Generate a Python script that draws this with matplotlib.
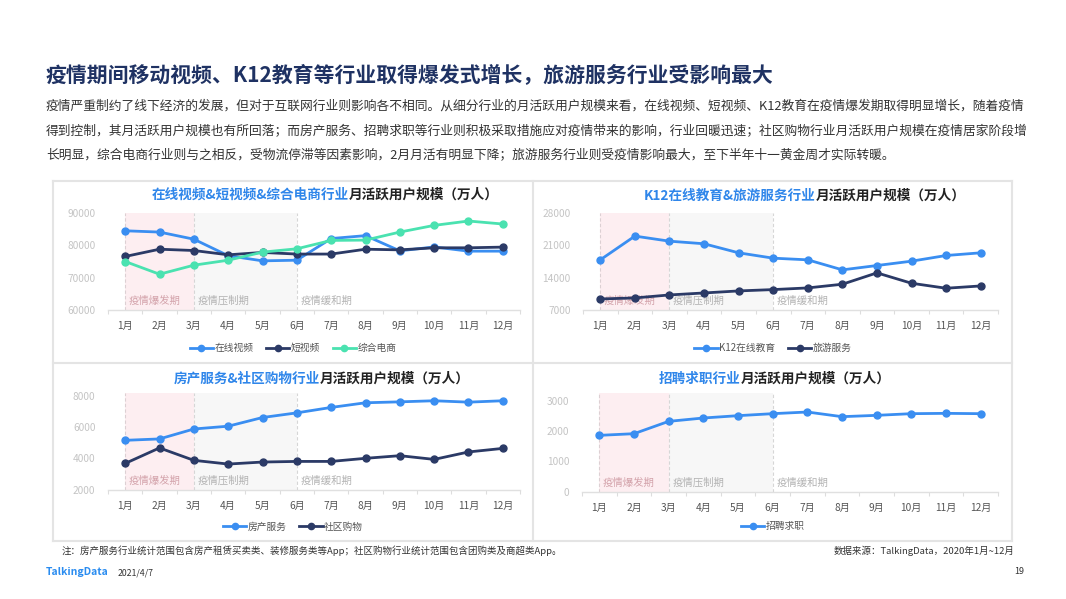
import matplotlib
matplotlib.use("Agg")
import matplotlib.pyplot as plt
from matplotlib.lines import Line2D

plt.rcParams['font.family'] = ['Noto Sans CJK SC', 'DejaVu Sans']

# ---- data ----
months = ["1月", "2月", "3月", "4月", "5月", "6月", "7月", "8月", "9月", "10月", "11月", "12月"]

online_video = [84500, 84100, 81900, 76800, 75200, 75400, 82100, 83000, 78300, 79500, 78200, 78200]
short_video = [76550, 78800, 78400, 77070, 77800, 77300, 77300, 78800, 78600, 79240, 79240, 79450]
ecommerce = [75000, 71070, 73860, 75400, 77900, 78930, 81520, 81620, 84100, 86170, 87520, 86590]

k12 = [17860, 23000, 21900, 21340, 19380, 18220, 17860, 15690, 16630, 17570, 18800, 19380]
travel = [9390, 9610, 10260, 10690, 11130, 11420, 11780, 12580, 15040, 12790, 11710, 12210]

real_estate = [5170, 5260, 5900, 6080, 6640, 6940, 7290, 7590, 7650, 7720, 7630, 7720]
community = [3680, 4680, 3880, 3640, 3770, 3810, 3810, 4010, 4180, 3940, 4420, 4650]

recruit = [1864, 1919, 2327, 2438, 2515, 2581, 2636, 2482, 2526, 2581, 2592, 2581]

phase_names = ["疫情爆发期", "疫情压制期", "疫情缓和期"]
phase_starts = [0, 2, 5]

BLUE = "#3a8ef1"
NAVY = "#2b3a66"
GREEN = "#4ae2b0"
TITLE_BLUE = "#2f86ea"

W, H = 1066, 599
fig = plt.figure(figsize=(W / 100, H / 100), dpi=100)
fig.patch.set_facecolor("white")


def fx(x):
    return x / W


def fy(y):
    return 1 - y / H


def make_axes(left, right, top, bottom):
    return fig.add_axes([fx(left), fy(bottom), (right - left) / W, (bottom - top) / H])


def draw_panel(ax, series, ylim, yticks):
    ax.set_xlim(-0.5, 11.5)
    ax.set_ylim(*ylim)
    # phase shading
    ax.axvspan(0, 2, color="#fdeef1", lw=0, zorder=0)
    ax.axvspan(2, 5, color="#f7f7f7", lw=0, zorder=0)
    for i, (name, start) in enumerate(zip(phase_names, phase_starts)):
        ax.axvline(start, color="#dcd0d3" if i == 0 else "#d6d6d6", lw=0.8,
                   ls=(0, (3, 2)), zorder=1)
        ax.annotate(name, xy=(start, 0), xycoords=("data", "axes fraction"),
                    xytext=(2.5, 6.5), textcoords="offset points", va="center",
                    ha="left", fontsize=7.5,
                    color="#d3a2aa" if i == 0 else "#b3b3b3", zorder=2)
    x = list(range(len(months)))
    handles = []
    for name, vals, color in series:
        ln, = ax.plot(x, vals, color=color, lw=2.0, marker="o", ms=5,
                      solid_capstyle="round", zorder=3, label=name)
        handles.append(ln)
    ax.set_yticks(yticks)
    ax.set_yticklabels([str(v) for v in yticks])
    ax.set_xticks(x)
    ax.set_xticklabels(months)
    ax.set_xticks([i - 0.5 for i in range(13)], minor=True)
    ax.tick_params(axis="y", length=0, pad=9, labelsize=7.3, labelcolor="#c4c4c4")
    ax.tick_params(axis="x", which="major", length=0, pad=8, labelsize=7.3,
                   labelcolor="#555555")
    ax.tick_params(axis="x", which="minor", length=3, width=0.8, color="#dddddd")
    for s in ["top", "right", "left"]:
        ax.spines[s].set_visible(False)
    ax.spines["bottom"].set_color("#e0e0e0")
    ax.spines["bottom"].set_linewidth(1.0)
    ax.set_facecolor("none")
    return handles


def add_legend(handles, cx, cy):
    hs = [Line2D([0], [0], color=h.get_color(), lw=2.0, marker="o", ms=4.5) for h in handles]
    fig.legend(hs, [h.get_label() for h in handles], loc="center",
               bbox_to_anchor=(fx(cx), fy(cy)), ncol=len(hs), frameon=False,
               fontsize=7, handlelength=2.4, handletextpad=0.15,
               columnspacing=1.3, labelcolor="#555555")


renderer = fig.canvas.get_renderer()


def two_color_title(blue_part, black_part, cx, cy, size=9.8):
    t1 = fig.text(0, fy(cy), blue_part, color=TITLE_BLUE, fontsize=size,
                  fontweight="bold", va="center", ha="left")
    t2 = fig.text(0, fy(cy), black_part, color="#222222", fontsize=size,
                  fontweight="bold", va="center", ha="left")
    w1 = t1.get_window_extent(renderer).width
    w2 = t2.get_window_extent(renderer).width
    left = cx - (w1 + w2) / 2
    t1.set_x(fx(left))
    t2.set_x(fx(left + w1))


# ---- page heading ----
fig.text(fx(46), fy(75), "疫情期间移动视频、K12教育等行业取得爆发式增长，旅游服务行业受影响最大",
         fontsize=15, fontweight="bold", color="#1f3263", va="center", ha="left")
body = [
    "疫情严重制约了线下经济的发展，但对于互联网行业则影响各不相同。从细分行业的月活跃用户规模来看，在线视频、短视频、K12教育在疫情爆发期取得明显增长，随着疫情",
    "得到控制，其月活跃用户规模也有所回落；而房产服务、招聘求职等行业则积极采取措施应对疫情带来的影响，行业回暖迅速；社区购物行业月活跃用户规模在疫情居家阶段增",
    "长明显，综合电商行业则与之相反，受物流停滞等因素影响，2月月活有明显下降；旅游服务行业则受疫情影响最大，至下半年十一黄金周才实际转暖。",
]
for i, line in enumerate(body):
    fig.text(fx(46), fy(106 + i * 24.5), line, fontsize=9.2, color="#333333",
             va="center", ha="left")

# ---- panel frames ----
frame_color = "#e4e4e4"
for (x0, x1, y0, y1) in [(53, 1012, 181, 181), (53, 1012, 363, 363), (53, 1012, 541, 541)]:
    fig.add_artist(Line2D([fx(x0), fx(x1)], [fy(y0), fy(y1)], color=frame_color, lw=1.5))
for x in [53, 533, 1012]:
    fig.add_artist(Line2D([fx(x), fx(x)], [fy(181), fy(541)], color=frame_color, lw=1.5))

# ---- panel 1 ----
ax1 = make_axes(108, 520, 213, 310)
h1 = draw_panel(ax1, [("在线视频", online_video, BLUE), ("短视频", short_video, NAVY),
                      ("综合电商", ecommerce, GREEN)],
                (60000, 90000), [60000, 70000, 80000, 90000])
two_color_title("在线视频&短视频&综合电商行业", "月活跃用户规模（万人）", 325, 195)
add_legend(h1, 293, 348)

# ---- panel 2 ----
ax2 = make_axes(583, 998, 213, 310)
h2 = draw_panel(ax2, [("K12在线教育", k12, BLUE), ("旅游服务", travel, NAVY)],
                (7000, 28000), [7000, 14000, 21000, 28000])
two_color_title("K12在线教育&旅游服务行业", "月活跃用户规模（万人）", 805, 196)
add_legend(h2, 773, 348)

# ---- panel 3 ----
ax3 = make_axes(108, 520, 393, 489.5)
h3 = draw_panel(ax3, [("房产服务", real_estate, BLUE), ("社区购物", community, NAVY)],
                (2000, 8220), [2000, 4000, 6000, 8000])
two_color_title("房产服务&社区购物行业", "月活跃用户规模（万人）", 322, 379)
add_legend(h3, 293, 526.5)

# ---- panel 4 ----
ax4 = make_axes(582, 998, 393, 491.7)
h4 = draw_panel(ax4, [("招聘求职", recruit, BLUE)],
                (0, 3265), [0, 1000, 2000, 3000])
two_color_title("招聘求职行业", "月活跃用户规模（万人）", 775, 379)
add_legend(h4, 773, 526)

# ---- footer ----
fig.text(fx(62), fy(551), "注：房产服务行业统计范围包含房产租赁买卖类、装修服务类等App；社区购物行业统计范围包含团购类及商超类App。",
         fontsize=6.8, style="italic", color="#333333", va="center", ha="left")
fig.text(fx(1015), fy(551), "数据来源：TalkingData，2020年1月~12月",
         fontsize=6.8, style="italic", color="#333333", va="center", ha="right")
fig.text(fx(46), fy(572), "TalkingData", fontsize=7.5, fontweight="bold",
         color="#2a8cf0", va="center", ha="left")
fig.text(fx(118), fy(573), "2021/4/7", fontsize=6.3, color="#333333", va="center", ha="left")
fig.text(fx(1024), fy(572), "19", fontsize=6.5, color="#333333", va="center", ha="right")

fig.savefig("out.png", dpi=100, facecolor="white")
